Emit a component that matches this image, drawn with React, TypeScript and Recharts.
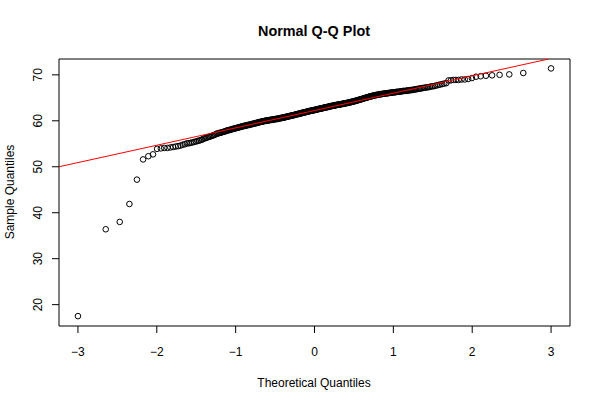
import React from "react"
import { ScatterChart, Scatter, XAxis, YAxis, ReferenceArea } from "recharts"

// sorted sample values (n = 370)
const sampleValues = [
  17.5, 36.4, 38.0, 41.9, 47.2, 51.6, 52.3, 52.7, 53.9,
  54.0, 54.1, 54.1, 54.2, 54.3, 54.4, 54.5, 54.6, 54.8, 54.9,
  55.1, 55.1, 55.2, 55.3, 55.4, 55.5, 55.6, 55.7, 55.8, 55.9,
  56.1, 56.2, 56.3, 56.4, 56.5, 56.6, 56.7, 56.8, 56.9, 57.0,
  57.2, 57.2, 57.3, 57.4, 57.4, 57.5, 57.6, 57.6, 57.7, 57.8,
  57.9, 57.9, 58.0, 58.0, 58.1, 58.2, 58.2, 58.3, 58.3, 58.4,
  58.4, 58.5, 58.5, 58.6, 58.6, 58.7, 58.7, 58.8, 58.8, 58.9,
  58.9, 58.9, 59.0, 59.0, 59.1, 59.1, 59.1, 59.2, 59.2, 59.3,
  59.3, 59.3, 59.4, 59.4, 59.5, 59.5, 59.5, 59.6, 59.6, 59.7,
  59.7, 59.7, 59.8, 59.8, 59.8, 59.9, 59.9, 59.9, 60.0, 60.0,
  60.0, 60.0, 60.1, 60.1, 60.1, 60.1, 60.2, 60.2, 60.2, 60.2,
  60.2, 60.3, 60.3, 60.3, 60.3, 60.4, 60.4, 60.4, 60.4, 60.4,
  60.5, 60.5, 60.5, 60.6, 60.6, 60.6, 60.6, 60.7, 60.7, 60.7,
  60.7, 60.8, 60.8, 60.8, 60.9, 60.9, 60.9, 61.0, 61.0, 61.0,
  61.0, 61.1, 61.1, 61.1, 61.2, 61.2, 61.2, 61.2, 61.3, 61.3,
  61.3, 61.4, 61.4, 61.4, 61.5, 61.5, 61.5, 61.5, 61.6, 61.6,
  61.6, 61.7, 61.7, 61.7, 61.8, 61.8, 61.8, 61.8, 61.9, 61.9,
  61.9, 62.0, 62.0, 62.0, 62.1, 62.1, 62.1, 62.1, 62.2, 62.2,
  62.2, 62.2, 62.3, 62.3, 62.3, 62.3, 62.4, 62.4, 62.4, 62.4,
  62.5, 62.5, 62.5, 62.6, 62.6, 62.6, 62.6, 62.7, 62.7, 62.7,
  62.7, 62.8, 62.8, 62.8, 62.9, 62.9, 62.9, 62.9, 63.0, 63.0,
  63.0, 63.0, 63.1, 63.1, 63.1, 63.2, 63.2, 63.2, 63.2, 63.3,
  63.3, 63.3, 63.3, 63.4, 63.4, 63.4, 63.4, 63.5, 63.5, 63.5,
  63.5, 63.5, 63.6, 63.6, 63.6, 63.6, 63.7, 63.7, 63.7, 63.7,
  63.8, 63.8, 63.8, 63.8, 63.9, 63.9, 63.9, 63.9, 64.0, 64.0,
  64.0, 64.1, 64.1, 64.1, 64.2, 64.2, 64.2, 64.3, 64.3, 64.3,
  64.4, 64.4, 64.5, 64.5, 64.5, 64.6, 64.6, 64.7, 64.7, 64.7,
  64.8, 64.8, 64.9, 64.9, 65.0, 65.0, 65.0, 65.1, 65.1, 65.2,
  65.2, 65.3, 65.3, 65.3, 65.4, 65.4, 65.5, 65.5, 65.5, 65.6,
  65.6, 65.6, 65.7, 65.7, 65.7, 65.8, 65.8, 65.8, 65.8, 65.9,
  65.9, 65.9, 65.9, 66.0, 66.0, 66.0, 66.0, 66.1, 66.1, 66.1,
  66.1, 66.2, 66.2, 66.2, 66.2, 66.3, 66.3, 66.3, 66.3, 66.4,
  66.4, 66.4, 66.5, 66.5, 66.5, 66.5, 66.6, 66.6, 66.6, 66.7,
  66.7, 66.7, 66.8, 66.8, 66.9, 66.9, 67.0, 67.0, 67.1, 67.1,
  67.2, 67.2, 67.3, 67.3, 67.4, 67.5, 67.5, 67.6, 67.7, 67.8,
  67.9, 68.0, 68.1, 68.2,
  68.8, 68.8, 68.9, 68.9, 68.9, 69.0, 69.0,
  69.1, 69.3, 69.6, 69.7, 69.8, 69.9, 70.0, 70.1, 70.4, 71.4,
]

// qqline as drawn (two ends)
const lineX = [-3.24, 2.97]
const lineY = [50.0, 73.45]

const xTicks = [-3, -2, -1, 0, 1, 2, 3]
const yTicks = [20, 30, 40, 50, 60, 70]
const xDomain = [-3.24, 3.24]
const yDomain = [15.35, 73.45]

// inverse normal cdf (Acklam), used for theoretical quantiles like qqnorm
function qnorm(p: number) {
  const a = [-39.69683028665376, 220.9460984245205, -275.9285104469687, 138.357751867269, -30.66479806614716, 2.506628277459239]
  const b = [-54.47609879822406, 161.5858368580409, -155.6989798598866, 66.80131188771972, -13.28068155288572]
  const c = [-0.007784894002430293, -0.3223964580411365, -2.400758277161838, -2.549732539343734, 4.374664141464968, 2.938163982698783]
  const d = [0.007784695709041462, 0.3224671290700398, 2.445134137142996, 3.754408661907416]
  const pl = 0.02425
  let q, r
  if (p < pl) {
    q = Math.sqrt(-2 * Math.log(p))
    return (((((c[0] * q + c[1]) * q + c[2]) * q + c[3]) * q + c[4]) * q + c[5]) / ((((d[0] * q + d[1]) * q + d[2]) * q + d[3]) * q + 1)
  }
  if (p > 1 - pl) {
    q = Math.sqrt(-2 * Math.log(1 - p))
    return -(((((c[0] * q + c[1]) * q + c[2]) * q + c[3]) * q + c[4]) * q + c[5]) / ((((d[0] * q + d[1]) * q + d[2]) * q + d[3]) * q + 1)
  }
  q = p - 0.5
  r = q * q
  return (((((a[0] * r + a[1]) * r + a[2]) * r + a[3]) * r + a[4]) * r + a[5]) * q / (((((b[0] * r + b[1]) * r + b[2]) * r + b[3]) * r + b[4]) * r + 1)
}

const n = sampleValues.length
const points = sampleValues.map((v, i) => ({ x: qnorm((i + 1 - 0.5) / n), y: v }))
const linePoints = lineX.map((x, i) => ({ x, y: lineY[i] }))

const font = "'Liberation Sans', Arial, Helvetica, sans-serif"

const OpenCircle = (props: any) => (
  <circle cx={props.cx} cy={props.cy} r={2.8} fill="none" stroke="#000" strokeWidth={1} />
)

const NoShape = () => null

const XTick = (props: any) => (
  <text x={props.x} y={props.y + 21} textAnchor="middle" fontSize={12} fontFamily={font} fill="#000">
    {String(props.payload.value).replace("-", "\u2212")}
  </text>
)

const YTick = (props: any) => {
  const x = props.x - 7.5
  return (
    <text x={x} y={props.y} textAnchor="middle" fontSize={12} fontFamily={font} fill="#000" transform={`rotate(-90 ${x} ${props.y})`}>
      {props.payload.value}
    </text>
  )
}

export default function App() {
  return (
    <div style={{ position: "absolute", left: 0, top: 0, width: 600, height: 400, background: "#fff" }}>
      <ScatterChart width={600} height={400} margin={{ top: 59, right: 30, bottom: 0, left: 0 }}>
        <XAxis
          type="number"
          dataKey="x"
          domain={xDomain}
          ticks={xTicks}
          allowDataOverflow
          height={74}
          axisLine={false}
          tickLine={{ stroke: "#000" }}
          tickSize={7}
          tick={<XTick />}
          interval={0}
        />
        <YAxis
          type="number"
          dataKey="y"
          domain={yDomain}
          ticks={yTicks}
          allowDataOverflow
          width={59}
          axisLine={false}
          tickLine={{ stroke: "#000" }}
          tickSize={7}
          tick={<YTick />}
          interval={0}
        />
        <ReferenceArea x1={xDomain[0]} x2={xDomain[1]} y1={yDomain[0]} y2={yDomain[1]} fill="none" fillOpacity={0} stroke="#000" strokeWidth={1} />
        <Scatter data={points} shape={<OpenCircle />} isAnimationActive={false} />
        <Scatter
          data={linePoints}
          line={{ stroke: "#ff0000", strokeWidth: 1 }}
          shape={<NoShape />}
          isAnimationActive={false}
        />
      </ScatterChart>
      <svg width={600} height={400} style={{ position: "absolute", left: 0, top: 0, pointerEvents: "none" }}>
        <text x={314} y={36} textAnchor="middle" fontSize={14.4} fontWeight="bold" fontFamily={font} fill="#000">
          Normal Q-Q Plot
        </text>
        <text x={314} y={387} textAnchor="middle" fontSize={12} fontFamily={font} fill="#000">
          Theoretical Quantiles
        </text>
        <text x={13.5} y={192} textAnchor="middle" fontSize={12} fontFamily={font} fill="#000" transform="rotate(-90 13.5 192)">
          Sample Quantiles
        </text>
      </svg>
    </div>
  )
}
